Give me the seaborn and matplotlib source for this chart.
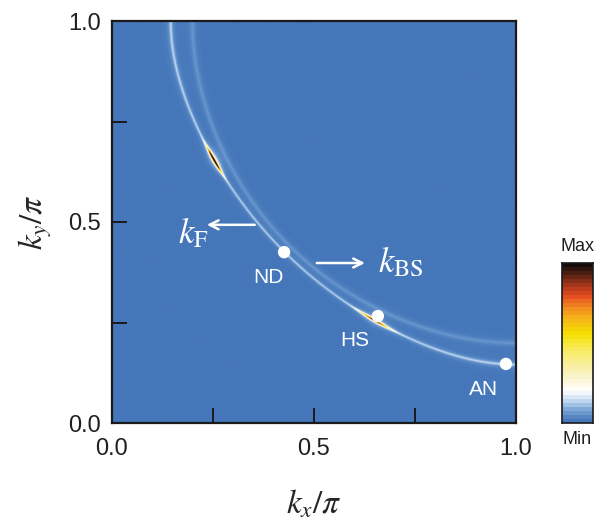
import numpy as np
import matplotlib
matplotlib.use("Agg")
import matplotlib.pyplot as plt
import seaborn as sns
from matplotlib.colors import LinearSegmentedColormap

# ---------------- data ----------------
# tight-binding bands (energies in units of t); parameters chosen so the two
# arcs pass through the points
band_t = [1.0, 1.0]
band_tp = [-0.2955, -0.333]
band_mu = [-0.857, -0.703]
band_gamma = [0.016, 0.035]
band_weight = [0.13, 0.045]

# spectral-weight hot spots on the main arc
hot_kx = [0.263, 0.657]
hot_ky = [0.660, 0.267]
hot_amp = [1.7, 1.05]
hot_width = [0.022, 0.026]
hot_gamma = 0.013

# marked Fermi-surface points
point_names = ["ND", "HS", "AN"]
point_kx = [0.426, 0.658, 0.975]
point_ky = [0.425, 0.266, 0.147]

tick_values = [0.0, 0.5, 1.0]
tick_labels = ["0.0", "0.5", "1.0"]
minor_values = [0.25, 0.75]

# colour scale stops (value, colour)
cmap_values = [0.0, 0.07, 0.13, 0.19, 0.30, 0.45, 0.56, 0.66, 0.73, 0.80, 0.87, 0.94, 1.0]
cmap_colors = ["#4577BA", "#7BA6D6", "#C4DAF0", "#FFFFFF", "#FAF2C2", "#F8EC66",
               "#F5E000", "#F6B31A", "#F18A1F", "#E64D22", "#A8381C", "#552214", "#150D0B"]

# ---------------- field ----------------
grid = np.linspace(0.0, 1.0, 1213)
KX, KY = np.meshgrid(grid, grid)
cx, cy = np.cos(np.pi * KX), np.cos(np.pi * KY)

hot = np.zeros_like(KX)
for hx, hy, ha, hw in zip(hot_kx, hot_ky, hot_amp, hot_width):
    hot += ha * np.exp(-((KX - hx) ** 2 + (KY - hy) ** 2) / (2 * hw ** 2))

A = np.zeros_like(KX)
for i, (t, tp, mu, g, w) in enumerate(zip(band_t, band_tp, band_mu, band_gamma, band_weight)):
    eps = -2 * t * (cx + cy) - 4 * tp * cx * cy - mu
    A += w * g ** 2 / (eps ** 2 + g ** 2)
    if i == 0:
        A += hot * hot_gamma ** 2 / (eps ** 2 + hot_gamma ** 2)
A = np.clip(A, 0, 1)

cmap = LinearSegmentedColormap.from_list("arpes", list(zip(cmap_values, cmap_colors)))

# ---------------- figure ----------------
sns.set_theme(style="ticks")
plt.rcParams["font.family"] = ["Liberation Sans", "DejaVu Sans"]
plt.rcParams["mathtext.fontset"] = "stix"

W, H = 605, 523
fig = plt.figure(figsize=(W / 100, H / 100), dpi=100)
ax = fig.add_axes([112 / W, 100 / H, 404 / W, 402 / H])

ax.imshow(A, origin="lower", extent=(0, 1, 0, 1), cmap=cmap, vmin=0, vmax=1,
          aspect="auto", interpolation="antialiased")

sns.scatterplot(x=point_kx, y=point_ky, color="white", s=80, edgecolor="none",
                ax=ax, zorder=5)

label_off = {"ND": (-0.040, -0.063), "HS": (-0.057, -0.060), "AN": (-0.055, -0.063)}
for name, x, y in zip(point_names, point_kx, point_ky):
    dx, dy = label_off[name]
    ax.text(x + dx, y + dy, name, color="white", fontsize=15, ha="center", va="center",
            zorder=6)

arrow_kw = dict(arrowstyle="->", color="white", lw=1.8, mutation_scale=16)
ax.annotate("", xy=(0.228, 0.493), xytext=(0.360, 0.493), arrowprops=arrow_kw)
ax.annotate("", xy=(0.633, 0.398), xytext=(0.500, 0.398), arrowprops=arrow_kw)
ax.text(0.20, 0.472, r"$k_{\mathrm{F}}$", color="white", fontsize=25, ha="center", va="center")
ax.text(0.715, 0.402, r"$k_{\mathrm{BS}}$", color="white", fontsize=25, ha="center", va="center")

ax.set_xlim(0, 1)
ax.set_ylim(0, 1)
ax.set_xticks(tick_values)
ax.set_xticklabels(tick_labels)
ax.set_yticks(tick_values)
ax.set_yticklabels(tick_labels)
ax.set_xticks(minor_values, minor=True)
ax.set_yticks(minor_values, minor=True)
ax.tick_params(which="both", direction="in", length=11, width=1.4, color="#1a1a1a",
               labelsize=17, pad=8, labelcolor="#231f20")
ax.tick_params(axis="x", which="both", pad=11)
for s in ax.spines.values():
    s.set_linewidth(1.6)
    s.set_color("#1a1a1a")

ax.set_xlabel(r"$k_x/\pi$", fontsize=24, labelpad=20)
ax.set_ylabel(r"$k_y/\pi$", fontsize=24, labelpad=10)

# colour bar
cax = fig.add_axes([562 / W, 100 / H, 31 / W, 160 / H])
bar = np.linspace(0, 1, 40).reshape(-1, 1)
cax.imshow(bar, origin="lower", extent=(0, 1, 0, 1), cmap=cmap, vmin=0, vmax=1,
           aspect="auto", interpolation="nearest")
cax.set_xticks([])
cax.set_yticks([])
for s in cax.spines.values():
    s.set_linewidth(1.2)
    s.set_color("#1a1a1a")
cax.text(0.5, 1.05, "Max", transform=cax.transAxes, ha="center", va="bottom",
         fontsize=13, color="#231f20")
cax.text(0.5, -0.05, "Min", transform=cax.transAxes, ha="center", va="top",
         fontsize=13, color="#231f20")

fig.savefig("out.png", dpi=100)
